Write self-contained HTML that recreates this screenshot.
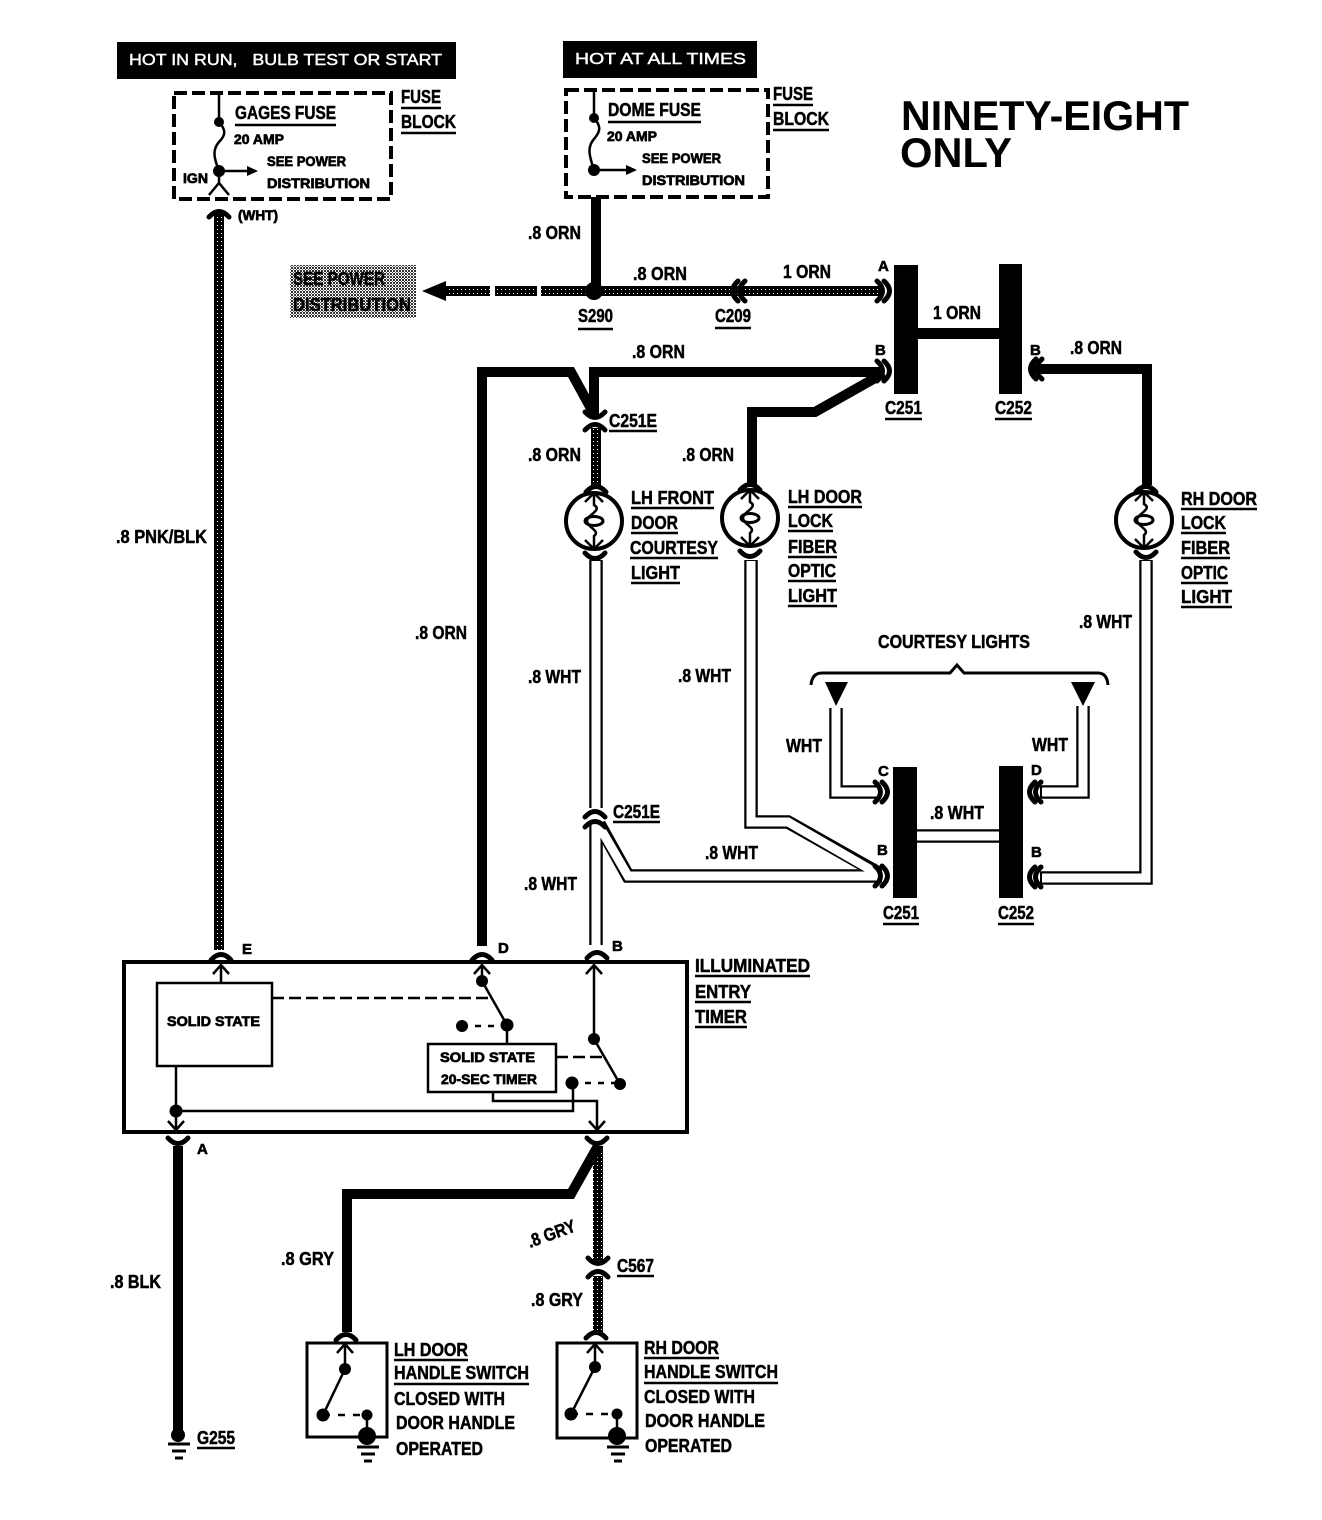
<!DOCTYPE html>
<html><head><meta charset="utf-8"><style>
html,body{margin:0;padding:0;background:#fff}
svg{display:block}
text{font-family:"Liberation Sans",sans-serif;font-weight:bold;font-size:18px;fill:#000;stroke:#000;stroke-width:.5}
.s{font-size:14px;stroke-width:.7}
.l{font-size:15px;stroke-width:.6}
.h{font-size:16px;font-weight:normal;fill:#fff;stroke:#fff;stroke-width:.45}
.n{font-size:42px;stroke:none}
.bw{fill:none;stroke:#000;stroke-width:13.5}
.ww{fill:none;stroke:#fff;stroke-width:9}
.k{fill:none;stroke:#000;stroke-width:10}
.p{fill:none;stroke:url(#st);stroke-width:10}
.t{fill:none;stroke:#000;stroke-width:2.5}
.a{fill:none;stroke:#000;stroke-width:5;stroke-linecap:round}
.d{fill:none;stroke:#000;stroke-width:2.5;stroke-dasharray:12 5}
.u{stroke:#000;stroke-width:2.5}
</style></head><body>
<svg width="1322" height="1520" viewBox="0 0 1322 1520" xmlns="http://www.w3.org/2000/svg">
<defs>
<pattern id="st" width="4" height="4" patternUnits="userSpaceOnUse"><rect width="4" height="4" fill="#000"/><rect x="1" y="1" width="1" height="1" fill="#fff"/></pattern>
<pattern id="gr" width="3" height="3" patternUnits="userSpaceOnUse"><rect width="3" height="3" fill="#fff"/><rect width="2" height="2" fill="#333"/><rect x="2" y="2" width="1" height="1" fill="#555"/></pattern>
<path id="cu" class="a" d="M-10,5 Q0,-6 10,5"/>
<path id="cd" class="a" d="M-10,-5 Q0,6 10,-5"/>
<path id="cr" class="a" d="M-5,-10 Q6,0 -5,10"/>
<path id="cl" class="a" d="M5,-10 Q-6,0 5,10"/>
<path id="au" class="t" d="M-8,9 L0,0 L8,9"/>
<path id="ad" class="t" d="M-8,-9 L0,0 L8,-9"/>
<g id="light">
<circle r="28" fill="#fff" stroke="#000" stroke-width="4"/>
<path class="t" d="M-9,-19 L0,-28 L9,-19 M-9,19 L0,28 L9,19 M0,-28 V-16 C9,-11 -7,-6 -7,0 C-7,6 7,10 0,15 V28"/>
<ellipse rx="9" ry="4.5" fill="none" stroke="#000" stroke-width="3"/>
</g>
<g id="gnd"><path class="u" d="M-11,0 H11 M-7,7 H7 M-4,14 H4" style="fill:none;stroke-width:3"/></g>
</defs>

<!-- headers -->
<rect x="117" y="42" width="339" height="37"/>
<text class="h" x="129" y="65" textLength="313" lengthAdjust="spacingAndGlyphs" xml:space="preserve">HOT IN RUN,   BULB TEST OR START</text>
<rect x="563" y="41" width="194" height="37"/>
<text class="h" x="575" y="64" textLength="171" lengthAdjust="spacingAndGlyphs">HOT AT ALL TIMES</text>
<text class="n" x="901" y="130" textLength="288" lengthAdjust="spacingAndGlyphs">NINETY-EIGHT</text>
<text class="n" x="900" y="167" textLength="112" lengthAdjust="spacingAndGlyphs">ONLY</text>

<!-- fuse blocks -->
<rect x="174" y="93" width="217" height="106" fill="none" stroke="#000" stroke-width="4" stroke-dasharray="13 5"/>
<rect x="566" y="90" width="202" height="107" fill="none" stroke="#000" stroke-width="4" stroke-dasharray="13 5"/>
<path class="t" d="M219,93 V122 C226,130 226,135 219,142 C212,150 214,158 219,171 M219,171 H250 M219,171 V185 M209,195 L219,183 L229,195"/>
<path d="M258,171 L247,166 V176 Z"/>
<circle cx="219" cy="122" r="5"/><circle cx="219" cy="171" r="6"/>
<path class="t" d="M594,91 V118 C601,126 601,131 594,139 C587,147 589,155 594,170 M594,170 H628"/>
<path d="M637,170 L626,165 V175 Z"/>
<circle cx="594" cy="118" r="5"/><circle cx="594" cy="170" r="6"/>

<text x="235" y="119" textLength="101" lengthAdjust="spacingAndGlyphs">GAGES FUSE</text><line class="u" x1="235" y1="125" x2="336" y2="125"/>
<text class="s" x="234" y="144" textLength="50" lengthAdjust="spacingAndGlyphs">20 AMP</text>
<text class="s" x="267" y="166" textLength="79" lengthAdjust="spacingAndGlyphs">SEE POWER</text>
<text class="s" x="267" y="188" textLength="103" lengthAdjust="spacingAndGlyphs">DISTRIBUTION</text>
<text class="s" x="183" y="183" textLength="25" lengthAdjust="spacingAndGlyphs">IGN</text>
<text x="401" y="103" textLength="40" lengthAdjust="spacingAndGlyphs">FUSE</text><line class="u" x1="401" y1="108" x2="441" y2="108"/>
<text x="401" y="128" textLength="55" lengthAdjust="spacingAndGlyphs">BLOCK</text><line class="u" x1="401" y1="133" x2="456" y2="133"/>
<text class="s" x="238" y="220" textLength="40" lengthAdjust="spacingAndGlyphs">(WHT)</text>

<text x="608" y="116" textLength="93" lengthAdjust="spacingAndGlyphs">DOME FUSE</text><line class="u" x1="608" y1="122" x2="701" y2="122"/>
<text class="s" x="607" y="141" textLength="50" lengthAdjust="spacingAndGlyphs">20 AMP</text>
<text class="s" x="642" y="163" textLength="79" lengthAdjust="spacingAndGlyphs">SEE POWER</text>
<text class="s" x="642" y="185" textLength="103" lengthAdjust="spacingAndGlyphs">DISTRIBUTION</text>
<text x="773" y="100" textLength="40" lengthAdjust="spacingAndGlyphs">FUSE</text><line class="u" x1="773" y1="105" x2="813" y2="105"/>
<text x="773" y="125" textLength="56" lengthAdjust="spacingAndGlyphs">BLOCK</text><line class="u" x1="773" y1="130" x2="829" y2="130"/>

<!-- see power box -->
<rect x="290" y="265" width="126" height="53" fill="url(#gr)"/>
<text x="293" y="285" textLength="92" lengthAdjust="spacingAndGlyphs">SEE POWER</text>
<text x="293" y="311" textLength="118" lengthAdjust="spacingAndGlyphs">DISTRIBUTION</text>

<!-- orange / thick wires -->
<path class="p" d="M219,212 V950"/>
<use href="#cu" x="219" y="212"/>
<path class="k" d="M596,197 V291"/>
<path class="p" d="M445,291 H490 M495,291 H537 M541,291 H880"/>
<path d="M422,291 L446,281 V301 Z"/>
<circle cx="594" cy="291" r="9"/>
<path class="k" d="M482,946 V372 H571 L594,414"/>
<path class="k" d="M594,416 V372 H882"/>
<path class="p" d="M596,428 V485"/>
<path class="k" d="M884,373 L815,412 H752 V485"/>
<path class="k" d="M1032,369 H1147 V485"/>

<!-- connector bars -->
<rect x="894" y="265" width="24" height="129"/>
<rect x="999" y="264" width="23" height="130"/>
<rect x="918" y="328" width="81" height="11"/>
<rect x="893" y="767" width="24" height="131"/>
<rect x="999" y="766" width="24" height="132"/>

<!-- white wires -->
<path class="bw" d="M596,560 V808 M596,824 V945 M599,824 L628,876 H882 M751,560 V822 H788 L880,874 M1146,560 V878 H1040 M836,708 V792 H880 M1083,706 V792 H1040 M917,836 H999"/>
<path class="ww" d="M596,561 V808 M596,824 V945 M599,826 L628,876 H880 M751,561 V822 H788 L878,874 M1146,561 V878 H1042 M836,707 V792 H878 M1083,705 V792 H1042 M917,836 H999"/>

<!-- courtesy -->
<path d="M825,682 H848 L836,706 Z M1071,682 H1095 L1083,706 Z"/>
<path fill="none" stroke="#000" stroke-width="3" d="M811,685 Q812,673 822,673 H950 L957,665 L964,673 H1098 Q1107,673 1108,685"/>

<!-- connectors -->
<use href="#cl" x="733" y="291"/><use href="#cl" x="740" y="291"/>
<use href="#cr" x="882" y="291"/><use href="#cr" x="889" y="291"/>
<use href="#cr" x="882" y="371"/><use href="#cr" x="889" y="371"/>
<use href="#cl" x="1031" y="369"/><use href="#cl" x="1037" y="369"/>
<use href="#cr" x="880" y="792"/><use href="#cr" x="887" y="792"/>
<use href="#cr" x="880" y="876"/><use href="#cr" x="887" y="876"/>
<use href="#cl" x="1030" y="792"/><use href="#cl" x="1036" y="792"/>
<use href="#cl" x="1030" y="877"/><use href="#cl" x="1036" y="877"/>
<use href="#cd" x="595" y="417"/><use href="#cu" x="595" y="425"/>
<use href="#cu" x="595" y="812"/><use href="#cu" x="595" y="822"/>
<use href="#cu" x="596" y="487"/><use href="#cd" x="595" y="558"/>
<use href="#cu" x="750" y="485"/><use href="#cd" x="750" y="556"/>
<use href="#cu" x="1146" y="487"/><use href="#cd" x="1146" y="557"/>

<!-- lights -->
<use href="#light" x="594" y="521"/>
<use href="#light" x="750" y="518"/>
<use href="#light" x="1144" y="520"/>

<!-- timer -->
<use href="#cu" x="221" y="955"/><use href="#cu" x="482" y="955"/><use href="#cu" x="597" y="953"/>
<rect x="124" y="962" width="563" height="170" fill="none" stroke="#000" stroke-width="4"/>
<rect x="157" y="983" width="115" height="83" fill="none" stroke="#000" stroke-width="2.5"/>
<rect x="428" y="1044" width="128" height="48" fill="none" stroke="#000" stroke-width="2.5"/>
<path class="t" d="M221,983 V965 M176,1066 V1130 M176,1111 H573 V1083 M493,1092 V1101 H597 V1130 M482,965 V981 L507,1025 V1044 M594,965 V1039 L620,1084"/>
<use href="#au" x="221" y="965"/><use href="#au" x="482" y="965"/><use href="#au" x="594" y="965"/>
<use href="#ad" x="176" y="1130"/><use href="#ad" x="597" y="1130"/>
<path class="d" d="M272,998 H492 M556,1057 H607"/>
<path class="d" d="M462,1026 H507 M572,1083 H620" style="stroke-dasharray:6 7"/>
<circle cx="482" cy="981" r="6"/><circle cx="507" cy="1025" r="6.5"/><circle cx="462" cy="1026" r="6"/>
<circle cx="594" cy="1039" r="6"/><circle cx="620" cy="1084" r="6"/><circle cx="572" cy="1083" r="6.5"/>
<circle cx="176" cy="1111" r="6.5"/>
<text class="s" x="167" y="1026" textLength="93" lengthAdjust="spacingAndGlyphs">SOLID STATE</text>
<text class="s" x="440" y="1062" textLength="95" lengthAdjust="spacingAndGlyphs">SOLID STATE</text>
<text class="s" x="441" y="1084" textLength="96" lengthAdjust="spacingAndGlyphs">20-SEC TIMER</text>

<!-- lower wires -->
<use href="#cd" x="178" y="1143"/><use href="#cd" x="597" y="1143"/>
<path class="k" d="M178,1146 V1432"/>
<path class="p" d="M598,1146 V1262 M598,1276 V1332"/>
<path class="k" d="M598,1146 L571,1194 H347 V1332"/>
<use href="#cd" x="598" y="1263"/><use href="#cu" x="598" y="1272"/>
<use href="#cu" x="346" y="1335"/><use href="#cu" x="596" y="1333"/>
<circle cx="178" cy="1435" r="7"/><use href="#gnd" x="179" y="1444"/>

<!-- switches -->
<rect x="307" y="1343" width="80" height="94" fill="none" stroke="#000" stroke-width="3"/>
<rect x="557" y="1343" width="80" height="95" fill="none" stroke="#000" stroke-width="3"/>
<path class="t" d="M345,1344 V1369 L323,1415 M367,1415 V1436 M595,1344 V1367 L571,1414 M617,1414 V1436"/>
<use href="#au" x="345" y="1344"/><use href="#au" x="595" y="1344"/>
<path class="d" d="M323,1415 H367 M571,1414 H617" style="stroke-dasharray:7 8"/>
<circle cx="345" cy="1369" r="6"/><circle cx="323" cy="1415" r="6.5"/><circle cx="367" cy="1415" r="5.5"/><circle cx="367" cy="1436" r="9"/>
<circle cx="595" cy="1367" r="6"/><circle cx="571" cy="1414" r="6.5"/><circle cx="617" cy="1414" r="5.5"/><circle cx="617" cy="1436" r="9"/>
<use href="#gnd" x="368" y="1447"/><use href="#gnd" x="618" y="1447"/>

<!-- wire labels -->
<text x="528" y="239" textLength="53" lengthAdjust="spacingAndGlyphs">.8 ORN</text>
<text x="633" y="280" textLength="54" lengthAdjust="spacingAndGlyphs">.8 ORN</text>
<text x="783" y="278" textLength="48" lengthAdjust="spacingAndGlyphs">1 ORN</text>
<text x="933" y="319" textLength="48" lengthAdjust="spacingAndGlyphs">1 ORN</text>
<text x="632" y="358" textLength="53" lengthAdjust="spacingAndGlyphs">.8 ORN</text>
<text x="1070" y="354" textLength="52" lengthAdjust="spacingAndGlyphs">.8 ORN</text>
<text x="528" y="461" textLength="53" lengthAdjust="spacingAndGlyphs">.8 ORN</text>
<text x="682" y="461" textLength="52" lengthAdjust="spacingAndGlyphs">.8 ORN</text>
<text x="415" y="639" textLength="52" lengthAdjust="spacingAndGlyphs">.8 ORN</text>
<text x="116" y="543" textLength="91" lengthAdjust="spacingAndGlyphs">.8 PNK/BLK</text>
<text x="528" y="683" textLength="53" lengthAdjust="spacingAndGlyphs">.8 WHT</text>
<text x="678" y="682" textLength="53" lengthAdjust="spacingAndGlyphs">.8 WHT</text>
<text x="1079" y="628" textLength="53" lengthAdjust="spacingAndGlyphs">.8 WHT</text>
<text x="524" y="890" textLength="53" lengthAdjust="spacingAndGlyphs">.8 WHT</text>
<text x="705" y="859" textLength="53" lengthAdjust="spacingAndGlyphs">.8 WHT</text>
<text x="930" y="819" textLength="54" lengthAdjust="spacingAndGlyphs">.8 WHT</text>
<text x="786" y="752" textLength="36" lengthAdjust="spacingAndGlyphs">WHT</text>
<text x="1032" y="751" textLength="36" lengthAdjust="spacingAndGlyphs">WHT</text>
<text x="878" y="648" textLength="152" lengthAdjust="spacingAndGlyphs">COURTESY LIGHTS</text>
<text x="110" y="1288" textLength="51" lengthAdjust="spacingAndGlyphs">.8 BLK</text>
<text x="281" y="1265" textLength="53" lengthAdjust="spacingAndGlyphs">.8 GRY</text>
<text x="531" y="1306" textLength="52" lengthAdjust="spacingAndGlyphs">.8 GRY</text>
<text x="530" y="1248" textLength="50" lengthAdjust="spacingAndGlyphs" transform="rotate(-20 530 1248)">.8 GRY</text>

<!-- pin letters -->
<text class="l" x="878" y="271">A</text>
<text class="l" x="875" y="355">B</text>
<text class="l" x="1030" y="355">B</text>
<text class="l" x="878" y="776">C</text>
<text class="l" x="1031" y="775">D</text>
<text class="l" x="877" y="855">B</text>
<text class="l" x="1031" y="857">B</text>
<text class="l" x="242" y="954">E</text>
<text class="l" x="498" y="953">D</text>
<text class="l" x="612" y="951">B</text>
<text class="l" x="197" y="1154">A</text>

<!-- connector names -->
<text x="578" y="322" textLength="35" lengthAdjust="spacingAndGlyphs">S290</text><line class="u" x1="578" y1="329" x2="613" y2="329"/>
<text x="715" y="322" textLength="36" lengthAdjust="spacingAndGlyphs">C209</text><line class="u" x1="715" y1="328" x2="751" y2="328"/>
<text x="885" y="414" textLength="37" lengthAdjust="spacingAndGlyphs">C251</text><line class="u" x1="885" y1="419" x2="922" y2="419"/>
<text x="995" y="414" textLength="37" lengthAdjust="spacingAndGlyphs">C252</text><line class="u" x1="995" y1="419" x2="1032" y2="419"/>
<text x="609" y="427" textLength="48" lengthAdjust="spacingAndGlyphs">C251E</text><line class="u" x1="609" y1="431" x2="657" y2="431"/>
<text x="613" y="818" textLength="47" lengthAdjust="spacingAndGlyphs">C251E</text><line class="u" x1="613" y1="822" x2="660" y2="822"/>
<text x="883" y="919" textLength="36" lengthAdjust="spacingAndGlyphs">C251</text><line class="u" x1="883" y1="924" x2="919" y2="924"/>
<text x="998" y="919" textLength="36" lengthAdjust="spacingAndGlyphs">C252</text><line class="u" x1="998" y1="924" x2="1034" y2="924"/>
<text x="617" y="1272" textLength="37" lengthAdjust="spacingAndGlyphs">C567</text><line class="u" x1="617" y1="1276" x2="654" y2="1276"/>
<text x="197" y="1444" textLength="38" lengthAdjust="spacingAndGlyphs">G255</text><line class="u" x1="197" y1="1448" x2="235" y2="1448"/>

<!-- component names -->
<text x="631" y="504" textLength="83" lengthAdjust="spacingAndGlyphs">LH FRONT</text><line class="u" x1="631" y1="508" x2="714" y2="508"/>
<text x="631" y="529" textLength="47" lengthAdjust="spacingAndGlyphs">DOOR</text><line class="u" x1="631" y1="533" x2="678" y2="533"/>
<text x="630" y="554" textLength="88" lengthAdjust="spacingAndGlyphs">COURTESY</text><line class="u" x1="630" y1="558" x2="718" y2="558"/>
<text x="631" y="579" textLength="49" lengthAdjust="spacingAndGlyphs">LIGHT</text><line class="u" x1="631" y1="583" x2="680" y2="583"/>

<text x="788" y="503" textLength="74" lengthAdjust="spacingAndGlyphs">LH DOOR</text><line class="u" x1="788" y1="507" x2="862" y2="507"/>
<text x="788" y="527" textLength="45" lengthAdjust="spacingAndGlyphs">LOCK</text><line class="u" x1="788" y1="531" x2="833" y2="531"/>
<text x="788" y="553" textLength="49" lengthAdjust="spacingAndGlyphs">FIBER</text><line class="u" x1="788" y1="557" x2="837" y2="557"/>
<text x="788" y="577" textLength="48" lengthAdjust="spacingAndGlyphs">OPTIC</text><line class="u" x1="788" y1="581" x2="836" y2="581"/>
<text x="788" y="602" textLength="49" lengthAdjust="spacingAndGlyphs">LIGHT</text><line class="u" x1="788" y1="606" x2="837" y2="606"/>

<text x="1181" y="505" textLength="76" lengthAdjust="spacingAndGlyphs">RH DOOR</text><line class="u" x1="1181" y1="509" x2="1257" y2="509"/>
<text x="1181" y="529" textLength="45" lengthAdjust="spacingAndGlyphs">LOCK</text><line class="u" x1="1181" y1="533" x2="1226" y2="533"/>
<text x="1181" y="554" textLength="49" lengthAdjust="spacingAndGlyphs">FIBER</text><line class="u" x1="1181" y1="558" x2="1230" y2="558"/>
<text x="1181" y="579" textLength="47" lengthAdjust="spacingAndGlyphs">OPTIC</text><line class="u" x1="1181" y1="583" x2="1228" y2="583"/>
<text x="1181" y="603" textLength="51" lengthAdjust="spacingAndGlyphs">LIGHT</text><line class="u" x1="1181" y1="607" x2="1232" y2="607"/>

<text x="695" y="972" textLength="115" lengthAdjust="spacingAndGlyphs">ILLUMINATED</text><line class="u" x1="695" y1="976" x2="810" y2="976"/>
<text x="695" y="998" textLength="56" lengthAdjust="spacingAndGlyphs">ENTRY</text><line class="u" x1="695" y1="1002" x2="751" y2="1002"/>
<text x="695" y="1023" textLength="52" lengthAdjust="spacingAndGlyphs">TIMER</text><line class="u" x1="695" y1="1027" x2="747" y2="1027"/>

<text x="394" y="1356" textLength="74" lengthAdjust="spacingAndGlyphs">LH DOOR</text><line class="u" x1="394" y1="1360" x2="468" y2="1360"/>
<text x="394" y="1379" textLength="135" lengthAdjust="spacingAndGlyphs">HANDLE SWITCH</text><line class="u" x1="394" y1="1384" x2="529" y2="1384"/>
<text x="394" y="1405" textLength="111" lengthAdjust="spacingAndGlyphs">CLOSED WITH</text>
<text x="396" y="1429" textLength="119" lengthAdjust="spacingAndGlyphs">DOOR HANDLE</text>
<text x="396" y="1455" textLength="87" lengthAdjust="spacingAndGlyphs">OPERATED</text>

<text x="644" y="1354" textLength="75" lengthAdjust="spacingAndGlyphs">RH DOOR</text><line class="u" x1="644" y1="1358" x2="719" y2="1358"/>
<text x="644" y="1378" textLength="134" lengthAdjust="spacingAndGlyphs">HANDLE SWITCH</text><line class="u" x1="644" y1="1383" x2="778" y2="1383"/>
<text x="644" y="1403" textLength="111" lengthAdjust="spacingAndGlyphs">CLOSED WITH</text>
<text x="645" y="1427" textLength="120" lengthAdjust="spacingAndGlyphs">DOOR HANDLE</text>
<text x="645" y="1452" textLength="87" lengthAdjust="spacingAndGlyphs">OPERATED</text>
</svg>
</body></html>
